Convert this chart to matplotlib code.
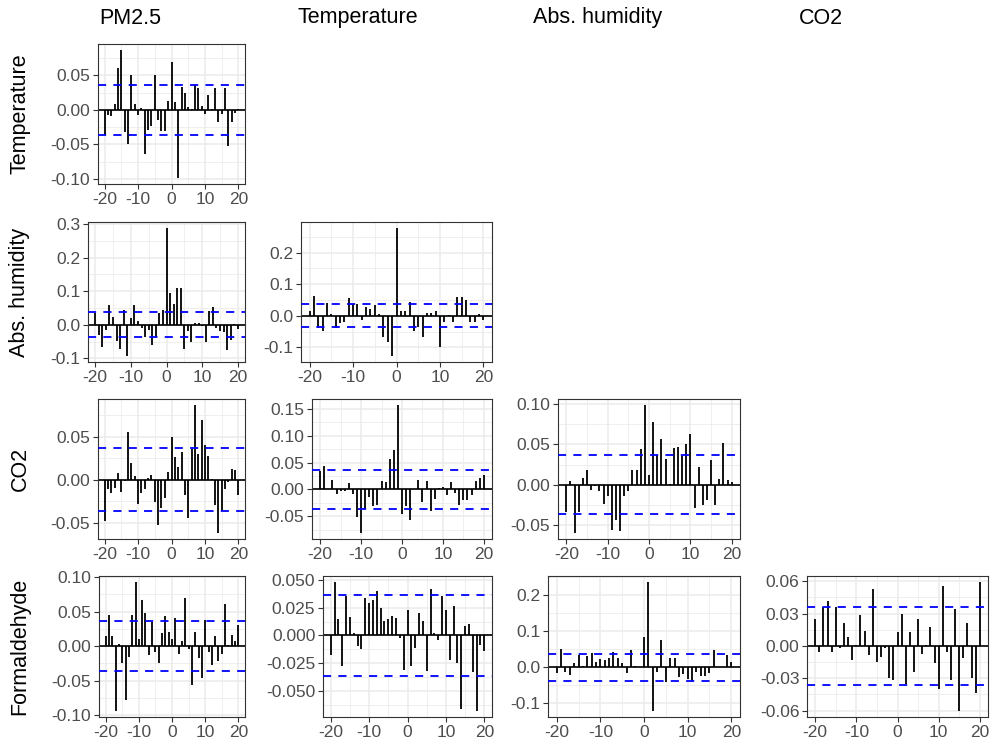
import matplotlib
matplotlib.use("Agg")
import matplotlib.pyplot as plt

plt.rcParams['font.family'] = ['Liberation Sans', 'DejaVu Sans']

# cross-correlation values, lags -20..20
lags = list(range(-20, 21))
ci = 0.0365

pm25_temp = [-0.037, -0.008, -0.009, 0.008, 0.061, 0.086, -0.032, -0.050, 0.051, 0.008,
             -0.008, 0.002, -0.064, -0.029, -0.024, 0.050, -0.014, -0.030, -0.030, 0.013,
             0.069,
             0.012, -0.098, 0.033, 0.025, 0.004, 0.001, 0.036, 0.032, 0.006, -0.006,
             0.021, 0.001, 0.032, -0.018, -0.006, 0.031, -0.052, -0.017, -0.004, 0.001]
pm25_abshum = [0.035, -0.032, -0.066, -0.015, 0.060, 0.023, -0.047, -0.072, 0.045, -0.092,
               0.020, 0.059, 0.010, -0.010, -0.037, -0.015, -0.059, -0.037, 0.035, 0.043,
               0.287,
               0.096, 0.062, 0.109, 0.109, -0.072, -0.020, -0.052, 0.005, 0.005, -0.005,
               -0.052, 0.040, 0.052, -0.010, -0.020, -0.023, -0.074, -0.045, 0.003, -0.012]
temp_abshum = [0.016, 0.064, -0.037, -0.049, 0.042, 0.007, -0.037, -0.024, -0.018, 0.058,
               0.039, 0.037, -0.013, 0.028, 0.022, 0.035, 0.005, -0.068, -0.084, -0.126,
               0.277,
               0.016, 0.016, 0.044, -0.049, -0.035, -0.068, 0.008, 0.008, 0.016, -0.100,
               -0.021, 0.002, -0.018, 0.061, 0.059, 0.051, -0.019, -0.019, 0.005, -0.014]
pm25_co2 = [-0.047, -0.011, -0.015, -0.010, 0.008, -0.014, -0.001, 0.055, 0.020, 0.004,
            -0.028, -0.015, -0.011, 0.002, 0.006, -0.026, -0.052, -0.033, -0.021, 0.009,
            0.049,
            0.026, 0.015, 0.032, -0.018, -0.044, 0.036, 0.086, 0.030, 0.069, 0.040,
            0.027, 0.001, -0.029, -0.061, -0.036, -0.011, -0.002, 0.012, 0.011, -0.017]
temp_co2 = [0.035, 0.044, 0.001, 0.018, -0.008, -0.003, -0.003, 0.012, -0.008, -0.051,
            -0.080, -0.036, -0.013, -0.031, -0.029, 0.015, 0.013, 0.057, 0.074, 0.156,
            -0.045,
            -0.031, -0.056, 0.001, 0.017, -0.023, 0.015, -0.040, -0.017, 0.003, 0.004,
            -0.011, 0.013, -0.007, -0.029, -0.019, -0.019, -0.010, 0.015, 0.021, 0.026]
abshum_co2 = [-0.034, 0.005, -0.059, -0.034, 0.009, 0.018, -0.007, -0.001, -0.008, -0.024,
              -0.014, -0.056, -0.044, -0.057, -0.014, -0.008, 0.018, 0.018, 0.044, 0.098,
              0.012,
              0.077, 0.037, 0.057, 0.032, 0.001, 0.045, 0.047, 0.036, 0.050, 0.063,
              -0.028, 0.022, -0.025, -0.019, 0.030, -0.025, 0.007, 0.051, 0.006, 0.004]
pm25_form = [0.015, 0.045, 0.014, -0.093, 0.003, -0.025, -0.078, -0.016, 0.045, 0.092,
             0.010, 0.067, 0.048, -0.013, 0.035, -0.008, -0.025, 0.019, 0.043, 0.020,
             0.011,
             0.040, -0.011, 0.008, 0.070, -0.004, -0.056, 0.021, -0.017, -0.046, 0.038,
             -0.008, -0.027, 0.015, -0.022, -0.011, 0.061, 0.001, 0.016, 0.007, 0.030]
temp_form = [-0.018, 0.048, 0.015, -0.028, 0.036, 0.017, 0.002, -0.010, -0.012, 0.034,
             0.029, 0.032, 0.040, 0.025, 0.013, 0.015, 0.018, 0.016, -0.002, -0.031,
             0.023,
             -0.028, -0.011, 0.020, 0.013, -0.032, 0.042, 0.002, -0.004, 0.036, 0.023,
             -0.022, 0.027, -0.025, -0.067, 0.009, 0.010, -0.033, -0.068, -0.009, -0.014]
abshum_form = [-0.016, 0.051, -0.012, -0.021, 0.012, 0.034, 0.003, 0.032, 0.040, 0.014,
               0.023, 0.021, 0.025, 0.044, 0.025, 0.012, -0.016, 0.048, 0.005, 0.001,
               0.084,
               0.236, -0.120, -0.014, 0.077, -0.040, 0.025, 0.025, -0.028, -0.019, -0.032,
               -0.037, -0.012, -0.023, -0.023, -0.016, 0.049, 0.001, 0.001, 0.034, 0.016]
co2_form = [0.025, -0.006, 0.036, 0.042, -0.006, 0.036, -0.002, 0.021, 0.008, -0.013,
            0.001, 0.029, 0.014, -0.008, 0.053, -0.015, -0.010, -0.002, -0.030, -0.032,
            0.013,
            0.030, -0.035, 0.013, -0.024, 0.025, -0.007, 0.001, 0.018, -0.016, -0.040,
            0.056, -0.006, -0.032, 0.034, -0.060, -0.011, 0.021, -0.030, -0.044, 0.059]

col_names = ['PM2.5', 'Temperature', 'Abs. humidity', 'CO2']
row_names = ['Temperature', 'Abs. humidity', 'CO2', 'Formaldehyde']
xticks = [-20, -10, 0, 10, 20]

# (row, col, values, y ticks)
panels = [
    (0, 0, pm25_temp, [-0.10, -0.05, 0.00, 0.05]),
    (1, 0, pm25_abshum, [-0.1, 0.0, 0.1, 0.2, 0.3]),
    (1, 1, temp_abshum, [-0.1, 0.0, 0.1, 0.2]),
    (2, 0, pm25_co2, [-0.05, 0.00, 0.05]),
    (2, 1, temp_co2, [-0.05, 0.00, 0.05, 0.10, 0.15]),
    (2, 2, abshum_co2, [-0.05, 0.00, 0.05, 0.10]),
    (3, 0, pm25_form, [-0.10, -0.05, 0.00, 0.05, 0.10]),
    (3, 1, temp_form, [-0.050, -0.025, 0.000, 0.025, 0.050]),
    (3, 2, abshum_form, [-0.1, 0.0, 0.1, 0.2]),
    (3, 3, co2_form, [-0.06, -0.03, 0.00, 0.03, 0.06]),
]

# panel boxes in pixels: left, right per panel; top, bottom per row
W, H = 999, 750
row_tb = [(44, 184), (222, 362), (399, 539), (576, 717)]
lefts = {(0, 0): 98, (1, 0): 88, (1, 1): 301, (2, 0): 98, (2, 1): 312, (2, 2): 558,
         (3, 0): 99, (3, 1): 323, (3, 2): 548, (3, 3): 807}
rights = [245, 492, 740, 988]

grid_col = '#EBEBEB'
dark = '#333333'


def fmt_ticks(ticks):
    for d in range(1, 5):
        if all(abs(round(t, d) - t) < 1e-9 for t in ticks):
            break
    return [('%.' + str(d) + 'f') % t for t in ticks]


fig = plt.figure(figsize=(W / 100, H / 100), dpi=100)

for r, c, vals, yt in panels:
    top, bot = row_tb[r]
    L, R = lefts[(r, c)], rights[c]
    ax = fig.add_axes([L / W, 1 - bot / H, (R - L) / W, (bot - top) / H])

    lo = min(min(vals), -ci)
    hi = max(max(vals), ci)
    pad = (hi - lo) * 0.05
    ax.set_ylim(lo - pad, hi + pad)
    ax.set_xlim(-22, 22)

    # grid
    step = yt[1] - yt[0]
    ymin, ymax = ax.get_ylim()
    minor_y = [yt[0] - step / 2] + [t + step / 2 for t in yt]
    for m in minor_y:
        if ymin < m < ymax:
            ax.axhline(m, color=grid_col, lw=0.55, zorder=0)
    for t in yt:
        ax.axhline(t, color=grid_col, lw=1.1, zorder=0)
    for m in [-15, -5, 5, 15]:
        ax.axvline(m, color=grid_col, lw=0.55, zorder=0)
    for t in xticks:
        ax.axvline(t, color=grid_col, lw=1.1, zorder=0)

    ax.axhline(0, color='black', lw=1.2, zorder=2)
    ax.vlines(lags, 0, vals, color='black', lw=1.3, zorder=3)
    for s in (ci, -ci):
        ax.axhline(s, color='#0000FF', lw=1.3, dashes=(4.5, 4), zorder=4)

    ax.set_xticks(xticks)
    ax.set_xticklabels([str(t) for t in xticks])
    ax.set_yticks(yt)
    ax.set_yticklabels(fmt_ticks(yt))
    ax.tick_params(length=3.5, width=0.8, color=dark, labelcolor='#4D4D4D',
                   labelsize=12.5, pad=2)
    for sp in ax.spines.values():
        sp.set_color(dark)
        sp.set_linewidth(0.8)

col_centers = [130, 358, 598, 821]
for name, x in zip(col_names, col_centers):
    fig.text(x / W, 1 - 18 / H, name, ha='center', va='center', fontsize=15.5)

for name, (top, bot) in zip(row_names, row_tb):
    fig.text(20 / W, 1 - (top + bot) / 2 / H, name, ha='center', va='center',
             rotation=90, fontsize=15.5)

fig.savefig('out.png', dpi=100)
